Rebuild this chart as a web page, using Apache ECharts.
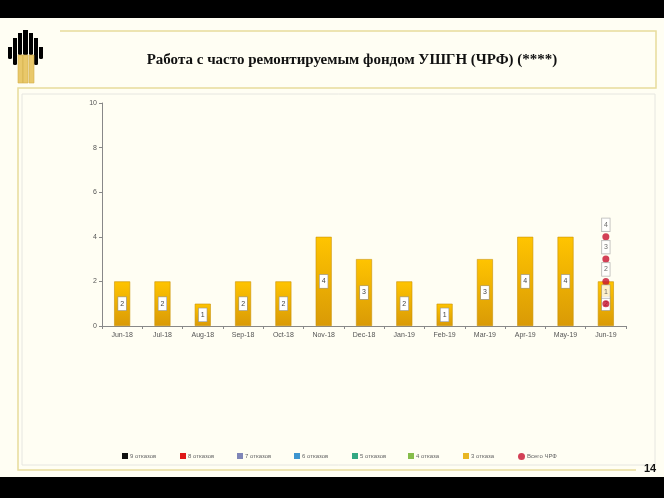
<!DOCTYPE html>
<html><head><meta charset="utf-8">
<script src="https://cdn.jsdelivr.net/npm/echarts@6/dist/echarts.min.js"></script>
<style>html,body{margin:0;padding:0;background:#000;}#c{width:664px;height:498px;}</style>
</head><body><div id="c"></div>
<script>
const categories = ['Jun-18','Jul-18','Aug-18','Sep-18','Oct-18','Nov-18','Dec-18','Jan-19','Feb-19','Mar-19','Apr-19','May-19','Jun-19'];
const yTicks = [0, 2, 4, 6, 8, 10];
const fail9 = [null,null,null,null,null,null,null,null,null,null,null,null,null];
const fail8 = [null,null,null,null,null,null,null,null,null,null,null,null,null];
const fail7 = [null,null,null,null,null,null,null,null,null,null,null,null,null];
const fail6 = [null,null,null,null,null,null,null,null,null,null,null,null,null];
const fail5 = [null,null,null,null,null,null,null,null,null,null,null,null,null];
const fail4 = [null,null,null,null,null,null,null,null,null,null,null,null,null];
const fail3 = [2,2,1,2,2,4,3,2,1,3,4,4,2];
const chrfCat = ['Jun-19','Jun-19','Jun-19','Jun-19'];
const chrfVal = [1,2,3,4];
const seriesNames = ['9 отказов','8 отказов','7 отказов','6 отказов','5 отказов','4 отказа','3 отказа','Всего ЧРФ'];
const seriesColors = ['#111111','#E01818','#7F86B8','#3E95CF','#33A882','#86BD4A','#E8B622','#C8102E'];

const chart = echarts.init(document.getElementById('c'));
const gold = new echarts.graphic.LinearGradient(0,0,0,1,[{offset:0,color:'#FFC400'},{offset:1,color:'#D99A06'}]);
const labelBox = {show:true, color:'#444', fontSize:7, fontFamily:'Arial', backgroundColor:'#fff', borderColor:'#999', borderWidth:0.6, padding:[3,2,3,2]};

const zeroSeries = [fail9,fail8,fail7,fail6,fail5,fail4].map((d,i)=>({
  name: seriesNames[i], type:'bar', stack:'s', data:d, barWidth:16,
  itemStyle:{color:seriesColors[i]}
}));

const legendLefts = [122,180,237,294,352,408,463,518];
const legends = seriesNames.map((n,i)=>({
  data:[ {name:n, icon: i===7 ? 'circle' : 'rect', itemStyle:{color:seriesColors[i], borderWidth:0}} ],
  left: legendLefts[i], top: 453, padding:0, itemWidth: i===7?7:6, itemHeight: i===7?7:6, itemGap:2,
  textStyle:{fontSize:6, color:'#666', fontFamily:'Arial', padding:[0,0,0,-3]},
  selectedMode:false
}));

// logo bars
const logo = [];
const bars = [[8,47,4,12],[13,38,4,27],[18,33,4,22],[23,30,5,25],[29,33,4,22],[34,38,4,27],[39,47,4,12]];
bars.forEach(b=>logo.push({type:'rect', shape:{x:b[0],y:b[1],width:b[2],height:b[3],r:[0,0,1.5,1.5]}, style:{fill:'#000'}}));
[[18,55,5,28],[23,55,5,28],[29,55,5,28]].forEach(b=>logo.push({type:'rect', shape:{x:b[0],y:b[1],width:b[2],height:b[3]}, style:{fill:'#E9C86A', stroke:'#D4AE4A', lineWidth:0.6}}));

chart.setOption({
  backgroundColor:'#000',
  animation:false,
  graphic:[
    {type:'rect', shape:{x:0,y:18,width:664,height:459}, style:{fill:'#FFFEF3'}, z:-10},
    ...logo,
    {type:'polyline', shape:{points:[[60,31],[656,31],[656,88],[18,88],[18,470],[636,470]]}, style:{stroke:'#E8DC9C', lineWidth:1.5, fill:null}},
    {type:'rect', shape:{x:22,y:94,width:633,height:371}, style:{fill:null, stroke:'#E6E6E0', lineWidth:1}},
    {type:'text', x:352, y:60, style:{text:'Работа с часто ремонтируемым фондом УШГН (ЧРФ) (****)', font:'bold 15px "Liberation Serif"', fill:'#111', align:'center', verticalAlign:'middle'}},
    {type:'text', x:650, y:469, style:{text:'14', font:'bold 11px Arial', fill:'#111', align:'center', verticalAlign:'middle'}}
  ],
  legend: legends,
  grid:{left:102, right:38, top:103, bottom:172},
  xAxis:{type:'category', data:categories, boundaryGap:true,
    axisLine:{lineStyle:{color:'#888', width:1}},
    axisTick:{show:true, length:3, alignWithLabel:false, lineStyle:{color:'#888'}},
    axisLabel:{fontSize:7, color:'#555', fontFamily:'Arial', margin:6}},
  yAxis:{type:'value', min:yTicks[0], max:yTicks[yTicks.length-1], interval:2,
    axisLine:{show:true, lineStyle:{color:'#888'}},
    axisTick:{show:true, length:3, lineStyle:{color:'#888'}},
    splitLine:{show:false},
    axisLabel:{fontSize:7, color:'#555', fontFamily:'Arial', margin:5}},
  series:[
    ...zeroSeries,
    {name:seriesNames[6], type:'bar', stack:'s', data:fail3, barWidth:16,
      itemStyle:{color:gold, borderColor:'#C99208', borderWidth:0.6},
      label:{...labelBox, position:'inside'}},
    {name:seriesNames[7], type:'scatter', data:chrfCat.map((c,i)=>[c,chrfVal[i]]), symbol:'circle', symbolSize:7,
      itemStyle:{color:seriesColors[7]}, z:5,
      label:{...labelBox, position:'top', distance:2, formatter:p=>p.value[1]}}
  ]
});
</script></body></html>
